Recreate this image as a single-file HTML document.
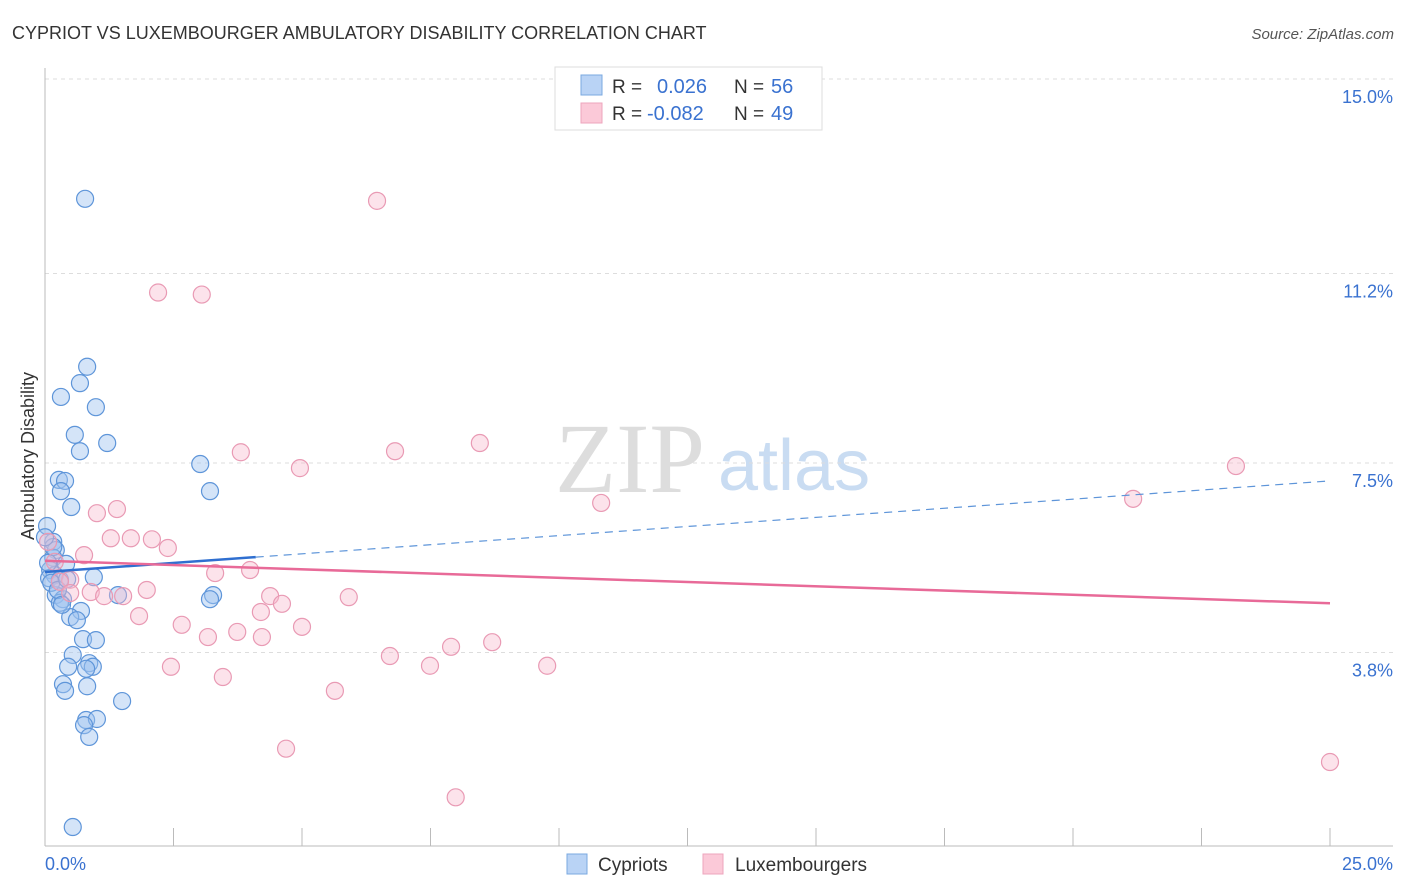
<!DOCTYPE html>
<html><head><meta charset="utf-8">
<style>
body{margin:0;background:#fff;font-family:"Liberation Sans",sans-serif;}
svg{display:block}
</style></head>
<body>
<svg id="chart" width="1406" height="892" viewBox="0 0 1406 892">
<text x="12" y="39" font-size="18" fill="#333">CYPRIOT VS LUXEMBOURGER AMBULATORY DISABILITY CORRELATION CHART</text>
<text x="1394" y="39" font-size="15" fill="#555" font-style="italic" text-anchor="end">Source: ZipAtlas.com</text>
<text transform="translate(34,456) rotate(-90)" font-size="18" fill="#333" text-anchor="middle">Ambulatory Disability</text>
<text x="555" y="492" font-size="100" fill="#ddd" font-family="Liberation Serif,serif">ZIP</text>
<text x="718" y="490" font-size="72" fill="#c9dcf2">atlas</text>
<g id="grid"></g>
<g id="axes"></g>
<g id="pts"></g>
<g id="trends"></g>
<g>
<rect x="555" y="67" width="267" height="63" fill="#fff" stroke="#ddd"/>
<rect x="581" y="75" width="21" height="20" fill="#b9d3f5" stroke="#7aa8e0"/>
<rect x="581" y="103" width="21" height="20" fill="#fbc9d8" stroke="#eea5bd"/>
<text x="612" y="93" font-size="19" fill="#333">R =</text>
<text x="657" y="93" font-size="20" fill="#3a72d0">0.026</text>
<text x="734" y="93" font-size="19" fill="#333">N =</text>
<text x="771" y="93" font-size="20" fill="#3a72d0">56</text>
<text x="612" y="120" font-size="19" fill="#333">R =</text>
<text x="647" y="120" font-size="20" fill="#3a72d0">-0.082</text>
<text x="734" y="120" font-size="19" fill="#333">N =</text>
<text x="771" y="120" font-size="20" fill="#3a72d0">49</text>
</g>
<g>
<rect x="567" y="854" width="20" height="20" fill="#b9d3f5" stroke="#7aa8e0"/>
<text x="598" y="871" font-size="19" fill="#333">Cypriots</text>
<rect x="703" y="854" width="20" height="20" fill="#fbc9d8" stroke="#eea5bd"/>
<text x="735" y="871" font-size="19" fill="#333">Luxembourgers</text>
</g>
</svg>
<script>
const yTicks=[15.0,11.2,7.5,3.8];
const yTickLabels=["15.0%","11.2%","7.5%","3.8%"];
const xTickLabels=["0.0%","25.0%"];
const cypX=[0.78,0.82,0.68,0.31,0.99,0.58,1.21,0.68,3.02,0.27,0.39,0.31,3.21,0.51,0.04,0.16,0.21,0.16,0.41,0.1,0.19,0.08,0.29,0.95,0.21,0.35,0.29,1.42,3.27,3.21,0.7,0.49,0.62,0.74,0.99,0.54,0.45,0.86,0.93,0.8,0.35,0.39,0.82,1.5,0.8,1.01,0.76,0.86,0.54,0.06,0.12,0.25,0.43,0.16,0.0,0.33];
const cypY=[12.66,9.38,9.06,8.79,8.59,8.05,7.89,7.73,7.48,7.17,7.15,6.95,6.95,6.64,6.27,5.96,5.8,5.65,5.53,5.41,5.31,5.25,5.22,5.27,4.92,4.84,4.77,4.92,4.92,4.84,4.61,4.49,4.43,4.06,4.04,3.75,3.52,3.59,3.52,3.48,3.18,3.05,3.14,2.85,2.48,2.5,2.38,2.15,0.39,5.55,5.16,5.02,5.23,5.86,6.05,4.73];
const luxX=[6.46,2.2,3.05,3.81,6.81,8.46,4.96,23.17,21.17,10.82,1.4,1.01,1.28,1.67,2.08,2.39,0.76,3.99,3.31,0.49,0.29,1.98,0.89,1.52,1.15,4.38,5.91,4.61,4.2,1.83,0.49,2.66,5.0,3.17,3.74,4.22,8.7,7.9,6.71,7.49,9.77,2.45,3.46,5.64,4.69,25.0,7.99,0.06,0.19];
const luxY=[12.62,10.83,10.79,7.71,7.73,7.89,7.4,7.44,6.8,6.72,6.6,6.52,6.03,6.03,6.01,5.84,5.7,5.41,5.35,5.22,5.18,5.02,4.98,4.9,4.9,4.9,4.88,4.75,4.59,4.51,4.96,4.34,4.3,4.1,4.2,4.1,4.0,3.91,3.73,3.54,3.54,3.52,3.32,3.05,1.92,1.66,0.97,5.96,5.57];
const cypTrend=[5.37,7.15];
const luxTrend=[5.59,4.76];
const cypSolidEnd=4.1;
const NS="http://www.w3.org/2000/svg";
const X=v=>45+v/25*1285;
const Y=v=>79+(15-v)*51.2;
function mk(tag,attrs,parent){const e=document.createElementNS(NS,tag);for(const k in attrs)e.setAttribute(k,attrs[k]);parent.appendChild(e);return e;}
const grid=document.getElementById('grid'),axes=document.getElementById('axes'),pts=document.getElementById('pts'),tr=document.getElementById('trends');
yTicks.forEach((t,i)=>{
 const l=mk('line',{x1:45,x2:1393,y1:Y(t),y2:Y(t),stroke:'#ddd','stroke-dasharray':'4,4'},grid);
 
 
 const tx=mk('text',{x:1393,y:Y(t)+24,'font-size':18,fill:'#3a72d0','text-anchor':'end'},grid);
 tx.textContent=yTickLabels[i];
 
 
});
const ya=mk('line',{x1:45,x2:45,y1:68,y2:846,stroke:'#bbb'},axes);


const xa=mk('line',{x1:45,x2:1393,y1:846,y2:846,stroke:'#bbb'},axes);


for(let i=0;i<=10;i++){const t=mk('line',{x1:X(i*2.5),x2:X(i*2.5),y1:828,y2:846,stroke:'#bbb'},axes);
 
 }
[[0,'start',45],[25,'end',1393]].forEach((a,i)=>{const t=mk('text',{x:a[2],y:870,'font-size':18,fill:'#3a72d0','text-anchor':a[1]},axes);t.textContent=xTickLabels[i];
 
 });
function dots(xs,ys,fill,stroke,name){xs.forEach((x,i)=>{const c=mk('circle',{cx:X(x),cy:Y(ys[i]),r:8.5,fill:fill,stroke:stroke,'stroke-width':1.2},pts);
 
 });}
dots(cypX,cypY,'rgba(160,196,240,0.45)','#5e95d9','cypriot-point');
dots(luxX,luxY,'rgba(248,185,205,0.4)','#e99ab4','luxembourger-point');
const cv=x=>cypTrend[0]+(cypTrend[1]-cypTrend[0])*x/25;
const t1=mk('line',{x1:X(0),y1:Y(cv(0)),x2:X(cypSolidEnd),y2:Y(cv(cypSolidEnd)),stroke:'#2f6fd0','stroke-width':2.5},tr);


const t2=mk('line',{x1:X(cypSolidEnd),y1:Y(cv(cypSolidEnd)),x2:X(25),y2:Y(cv(25)),stroke:'#5e95d9','stroke-width':1.2,'stroke-dasharray':'8,6'},tr);


const t3=mk('line',{x1:X(0),y1:Y(luxTrend[0]),x2:X(25),y2:Y(luxTrend[1]),stroke:'#e86a98','stroke-width':2.5},tr);


</script>
</body></html>
